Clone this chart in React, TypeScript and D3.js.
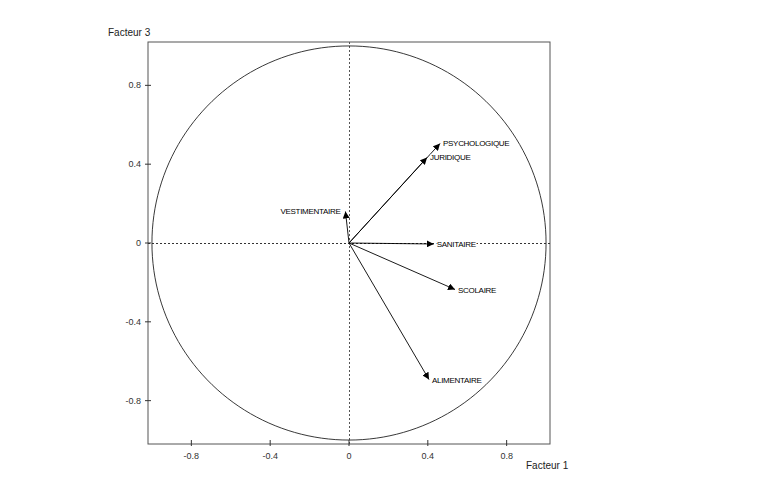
import React from "react";
import * as d3 from "d3";

const variables = ["PSYCHOLOGIQUE", "JURIDIQUE", "VESTIMENTAIRE", "SANITAIRE", "SCOLAIRE", "ALIMENTAIRE"];
const factor1 = [0.462, 0.396, -0.018, 0.43, 0.538, 0.406];
const factor3 = [0.505, 0.434, 0.16, -0.005, -0.236, -0.693];
const ticks = [-0.8, -0.4, 0, 0.4, 0.8];
const tickLabels = ["-0.8", "-0.4", "0", "0.4", "0.8"];
const xTitle = "Facteur 1";
const yTitle = "Facteur 3";

export default function App() {
  const W = 764, H = 477;
  const x = d3.scaleLinear().domain([-1.02, 1.02]).range([148, 550]);
  const y = d3.scaleLinear().domain([-1.02, 1.02]).range([444, 42]);
  const circle = d3.range(0, 361, 2).map((a) => [Math.cos((a * Math.PI) / 180), Math.sin((a * Math.PI) / 180)] as [number, number]);
  const circlePath = d3.line<[number, number]>().x((d) => x(d[0])).y((d) => y(d[1]))(circle) || "";
  const font = "'Liberation Sans', Arial, sans-serif";
  const labelAnchor = (i: number) => (factor1[i] < 0 ? "end" : "start");
  return (
    <svg width={W} height={H} style={{ position: "absolute", left: 0, top: 0, background: "#fff" }} fontFamily={font}>
      <defs>
        <marker id="ah" viewBox="0 0 10 10" refX="10" refY="5" markerWidth="7" markerHeight="7" markerUnits="userSpaceOnUse" orient="auto">
          <path d="M0,0 L10,5 L0,10 z" fill="#000" />
        </marker>
      </defs>
      {/* frame */}
      <rect x={x(-1.02)} y={y(1.02)} width={x(1.02) - x(-1.02)} height={y(-1.02) - y(1.02)} fill="none" stroke="#555" strokeWidth={1} />
      {/* dotted axes */}
      <line x1={x(-1.02)} x2={x(1.02)} y1={y(0) + 0.5} y2={y(0) + 0.5} stroke="#333" strokeWidth={1} strokeDasharray="2,2" />
      <line x1={x(0) + 0.5} x2={x(0) + 0.5} y1={y(1.02)} y2={y(-1.02)} stroke="#555" strokeWidth={1} strokeDasharray="2,2" />
      {/* circle */}
      <path d={circlePath} fill="none" stroke="#222" strokeWidth={0.9} />
      {/* x ticks */}
      {ticks.map((t, i) => (
        <g key={"xt" + i}>
          <line x1={x(t)} x2={x(t)} y1={y(-1.02) - 4} y2={y(-1.02) + 2} stroke="#333" />
          <text x={x(t)} y={y(-1.02) + 15} fontSize={9} fill="#333" textAnchor="middle">{tickLabels[i]}</text>
        </g>
      ))}
      {/* y ticks */}
      {ticks.map((t, i) => (
        <g key={"yt" + i}>
          <line x1={x(-1.02) - 3} x2={x(-1.02) + 3} y1={y(t)} y2={y(t)} stroke="#333" />
          <text x={x(-1.02) - 7} y={y(t) + 3} fontSize={9} fill="#333" textAnchor="end">{tickLabels[i]}</text>
        </g>
      ))}
      {/* titles */}
      <text x={108} y={36} fontSize={10} fill="#222">{yTitle}</text>
      <text x={526} y={469} fontSize={10} fill="#222">{xTitle}</text>
      {/* arrows */}
      {variables.map((v, i) => (
        <g key={v}>
          <line x1={x(0)} y1={y(0)} x2={x(factor1[i])} y2={y(factor3[i])} stroke="#000" strokeWidth={0.9} markerEnd="url(#ah)" />
          <text
            x={x(factor1[i]) + (factor1[i] < 0 ? -5 : 3)}
            y={y(factor3[i]) + 3}
            fontSize={8}
            letterSpacing={-0.3}
            fill="#000"
            stroke="#fff"
            strokeWidth={2}
            style={{ paintOrder: "stroke" }}
            textAnchor={labelAnchor(i)}
          >
            {v}
          </text>
        </g>
      ))}
    </svg>
  );
}
